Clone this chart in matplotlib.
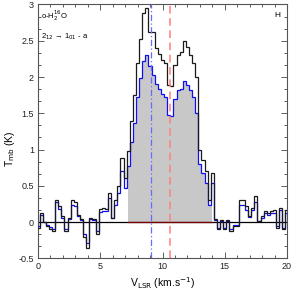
import numpy as np
import matplotlib
matplotlib.use("Agg")
import matplotlib.pyplot as plt
from matplotlib.ticker import MultipleLocator, FormatStrFormatter

# ---- data ----
chan_width = 0.25         # km/s
v_first = 0.0             # centre of first channel (km/s)
tmb_black = [
    -0.08, 0.12, 0.00, -0.05, -0.09, -0.13, 0.31, 0.22, 0.08, -0.13,
    0.05, 0.30, 0.27, 0.10, 0.04, -0.20, -0.36, 0.05, 0.04, -0.17,
    0.18, 0.19, 0.18, 0.40, 0.06, 0.31, 0.50, 0.89, 0.61, 0.98,
    1.40, 1.75, 2.19, 2.53, 2.88, 2.95, 2.62, 2.62, 2.40, 2.32,
    2.23, 2.20, 1.89, 1.87, 2.16, 2.31, 2.35, 2.50, 2.42, 2.30,
    2.20, 2.00, 1.00, 0.86, 0.70, 0.30, 0.68, 0.04, -0.10, 0.03,
    -0.10, 0.03, -0.12, -0.05, -0.05, 0.30, 0.30, 0.22, 0.09, 0.20,
    0.36, 0.01, 0.08, 0.15, 0.13, 0.15, 0.17, -0.08, 0.20, -0.10,
    0.17,
]
tmb_blue = [
    -0.06, 0.10, 0.00, -0.04, -0.07, -0.10, 0.27, 0.18, 0.06, -0.10,
    0.04, 0.24, 0.22, 0.08, 0.03, -0.16, -0.29, 0.04, 0.03, -0.13,
    0.14, 0.15, 0.15, 0.33, 0.05, 0.24, 0.40, 0.70, 0.47, 0.77,
    1.10, 1.37, 1.72, 1.98, 2.22, 2.30, 2.15, 2.03, 1.90, 1.84,
    1.76, 1.73, 1.47, 1.46, 1.69, 1.82, 1.84, 1.95, 1.89, 1.82,
    1.72, 1.50, 0.80, 0.67, 0.54, 0.24, 0.54, 0.03, -0.08, 0.02,
    -0.08, 0.02, -0.09, -0.04, -0.04, 0.23, 0.23, 0.17, 0.07, 0.16,
    0.28, 0.01, 0.06, 0.12, 0.10, 0.12, 0.13, -0.06, 0.16, -0.08,
    0.13,
]
fill_range = (7.25, 14.0)  # km/s, shaded integration window
v_blue_line = 9.05         # km/s
v_red_line = 10.6          # km/s
x_ticks = [0, 5, 10, 15, 20]
y_ticks = [-0.5, 0, 0.5, 1, 1.5, 2, 2.5, 3]

plt.rcParams['font.family'] = ['Liberation Sans', 'DejaVu Sans']

tb = np.array(tmb_black)
tbl = np.array(tmb_blue)
n = len(tb)
edges = v_first - chan_width / 2 + chan_width * np.arange(n + 1)

fig = plt.figure(figsize=(2.92, 2.93), dpi=100)
ax = fig.add_axes([38 / 292, 34.7 / 293, 249 / 292, 253.8 / 293])

# shaded region under blue curve (channel centres at the limits)
i0 = int(round((fill_range[0] - v_first) / chan_width))
i1 = int(round((fill_range[1] - v_first) / chan_width))
fe = edges[i0:i1 + 2].copy()
fe[0] = fill_range[0]
fe[-1] = fill_range[1]
ax.stairs(tbl[i0:i1 + 1], fe, baseline=0, fill=True,
          color='#c8c8c8', lw=0, zorder=1)

# zero line
ax.axhline(0, color='black', lw=0.9, zorder=2)
ax.plot(list(fill_range), [0, 0], color='#7a0000', lw=0.9, zorder=2.5)

# spectra
ax.stairs(tb, edges, color='#1a1a1a', lw=0.9, zorder=4)
ax.stairs(tbl, edges, color='#1010ee', lw=0.9, zorder=3)

# reference velocities
ax.axvline(v_blue_line, color='#6a6aff', lw=0.9, ls=(0, (5, 2, 1, 2)), zorder=5)
ax.axvline(v_red_line, color='#ff8080', lw=1.1, ls=(0, (5, 3)), zorder=5)

ax.set_xlim(0, 20)
ax.set_ylim(-0.5, 3)
ax.set_xticks(x_ticks)
ax.set_yticks(y_ticks)
ax.yaxis.set_major_formatter(FormatStrFormatter('%g'))
ax.xaxis.set_minor_locator(MultipleLocator(1))
ax.yaxis.set_minor_locator(MultipleLocator(0.5 / 3))
ax.tick_params(which='both', direction='in', top=True, right=True,
               labelsize=6.5, colors='#444444', labelcolor='#222222', width=0.6)
ax.tick_params(which='major', length=4, pad=3)
ax.tick_params(which='minor', length=2)
for s in ax.spines.values():
    s.set_color('#555555')
    s.set_linewidth(0.8)

ax.set_xlabel('V$_{\\rm LSR}$ (km.s$^{-1}$)', fontsize=7.5, labelpad=3)
ax.set_ylabel('T$_{\\rm mb}$ (K)', fontsize=7.5)
ax.yaxis.set_label_coords(-0.085, 0.43)

ax.text(0.012, 0.957, 'o-H$_2^{16}$O', transform=ax.transAxes, fontsize=5.5,
        ha='left', va='center')
ax.text(0.012, 0.872, '2$_{12}$ \u2192 1$_{01}$ - a', transform=ax.transAxes,
        fontsize=5.5, ha='left', va='center')
ax.text(0.96, 0.957, 'H', transform=ax.transAxes, fontsize=6,
        ha='center', va='center')

fig.savefig('out.png', dpi=100)
